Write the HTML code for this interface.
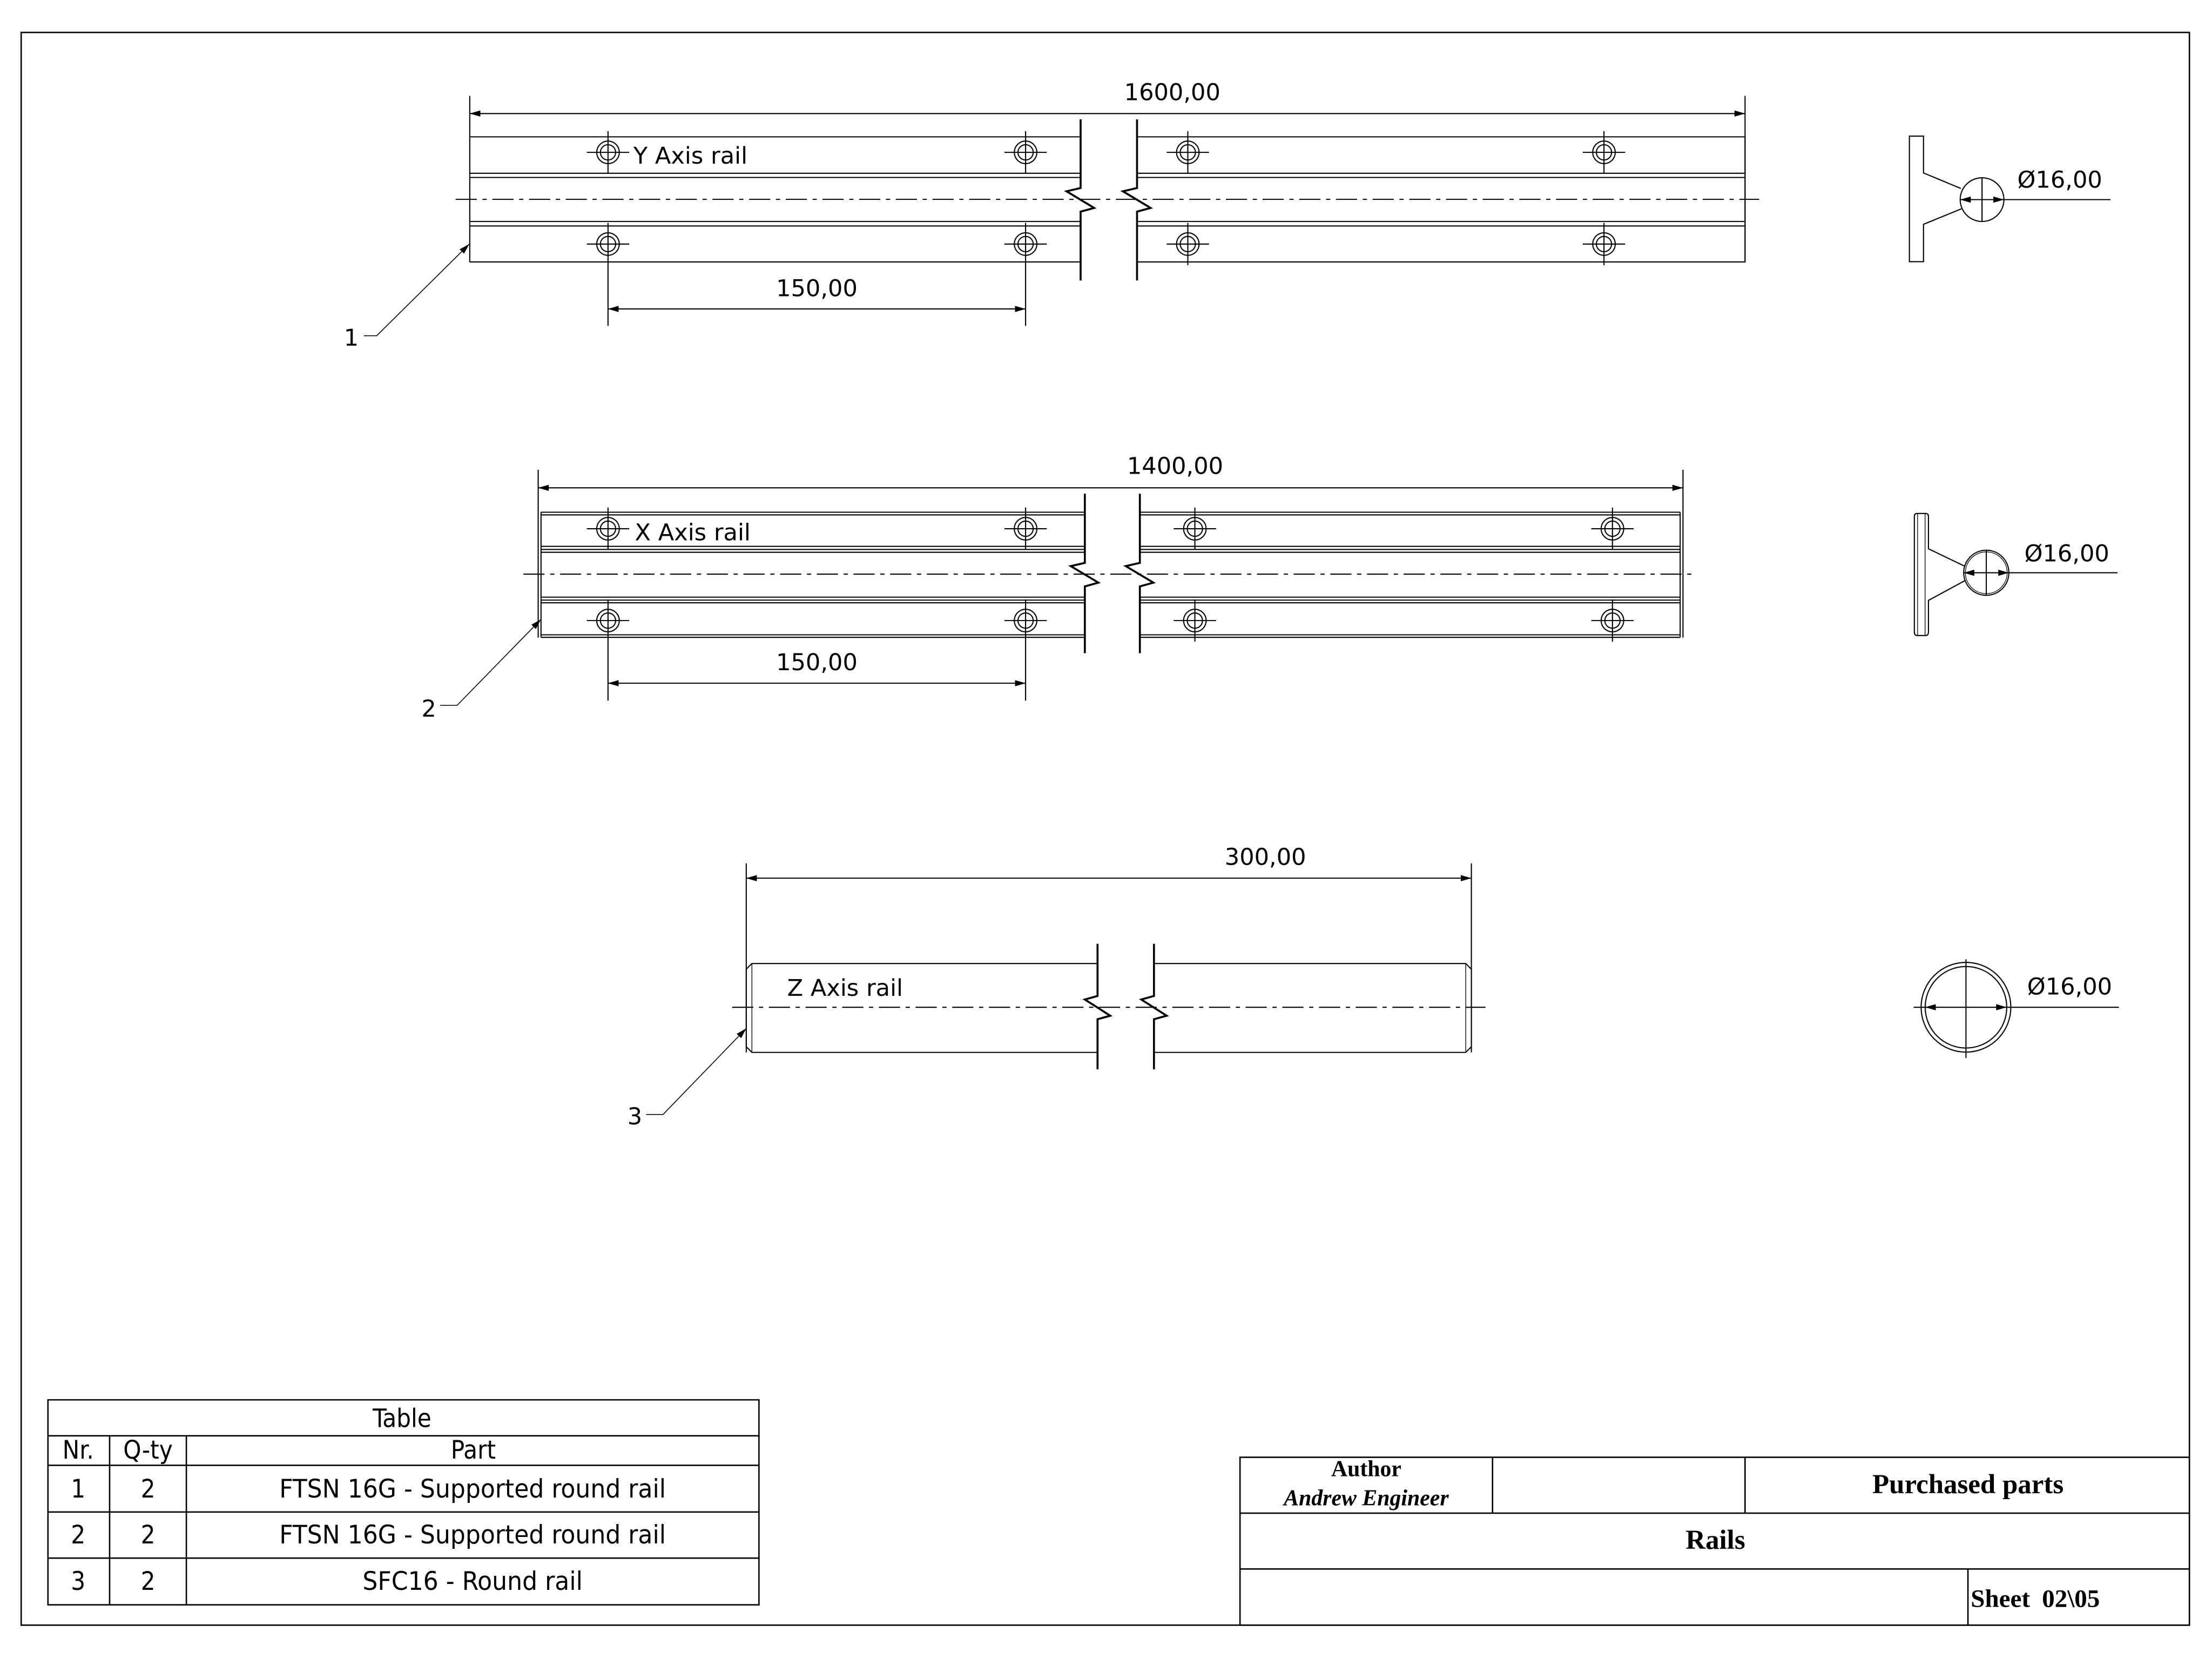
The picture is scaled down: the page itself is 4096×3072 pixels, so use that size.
<!DOCTYPE html>
<html><head><meta charset="utf-8"><style>
html,body{margin:0;padding:0;background:#fff;width:4096px;height:3072px;overflow:hidden}
svg{display:block}
.d{font-family:"DejaVu Sans","Liberation Sans",sans-serif;font-size:16.5px;fill:#000}
.t{font-family:"DejaVu Sans Condensed","DejaVu Sans","Liberation Sans",sans-serif;font-size:18px;fill:#000}
.s{font-family:"Liberation Serif",serif;font-weight:bold;font-size:19.5px;fill:#000}
</style></head><body>
<svg width="4096" height="3072" viewBox="0 0 1568 1176" xmlns="http://www.w3.org/2000/svg">
<defs>
<marker id="a" markerUnits="userSpaceOnUse" markerWidth="12" markerHeight="8" refX="0" refY="0" viewBox="-8 -4 9 8" orient="auto-start-reverse"><path d="M0,0 L-7.5,-2.2 L-7.5,2.2 z" fill="#000"/></marker>
</defs>
<rect width="1568" height="1176" fill="#fff"/>
<rect x="15" y="23" width="1537" height="1129" fill="none" stroke="#000" stroke-width="1"/>

<g fill="none" stroke="#000" stroke-width="0.8">
<!-- ===== Y rail ===== -->
<line x1="333" y1="68" x2="333" y2="186"/><line x1="1237" y1="68" x2="1237" y2="186"/>
<line x1="333" y1="80.5" x2="1237" y2="80.5" marker-start="url(#a)" marker-end="url(#a)"/>
<path d="M333,97H766 M333,122.8H766 M333,125.8H766 M333,157H766 M333,160.2H766 M333,185.7H766"/>
<path d="M806,97H1237 M806,122.8H1237 M806,125.8H1237 M806,157H1237 M806,160.2H1237 M806,185.7H1237 M1237,97V185.7"/>
<line x1="323" y1="141.3" x2="1247" y2="141.3" stroke-dasharray="15 4 3 4"/>
<path d="M766,84.6V133.3L756,135.6L775.6,147.4L766,150V198.8" stroke-width="1.4"/>
<path d="M806,84.6V133.3L796,135.6L815.6,147.4L806,150V198.8" stroke-width="1.4"/>
<circle cx="431" cy="108" r="8"/><circle cx="431" cy="108" r="5.4"/><path d="M416,108H446M431,93V123"/>
<circle cx="727" cy="108" r="8"/><circle cx="727" cy="108" r="5.4"/><path d="M712,108H742M727,93V123"/>
<circle cx="842" cy="108" r="8"/><circle cx="842" cy="108" r="5.4"/><path d="M827,108H857M842,93V123"/>
<circle cx="1137" cy="108" r="8"/><circle cx="1137" cy="108" r="5.4"/><path d="M1122,108H1152M1137,93V123"/>
<circle cx="431" cy="173" r="8"/><circle cx="431" cy="173" r="5.4"/><path d="M416,173H446M431,158V231"/>
<circle cx="727" cy="173" r="8"/><circle cx="727" cy="173" r="5.4"/><path d="M712,173H742M727,158V231"/>
<circle cx="842" cy="173" r="8"/><circle cx="842" cy="173" r="5.4"/><path d="M827,173H857M842,158V188"/>
<circle cx="1137" cy="173" r="8"/><circle cx="1137" cy="173" r="5.4"/><path d="M1122,173H1152M1137,158V188"/>
<line x1="431" y1="219" x2="727" y2="219" marker-start="url(#a)" marker-end="url(#a)"/>
<path d="M258,238H267L332.7,173" marker-end="url(#a)" stroke-width="0.6"/>

<!-- ===== X rail ===== -->
<line x1="381.5" y1="333" x2="381.5" y2="452"/><line x1="1193" y1="333" x2="1193" y2="452"/>
<line x1="381.5" y1="345.8" x2="1193" y2="345.8" marker-start="url(#a)" marker-end="url(#a)"/>
<path d="M383.5,363.1H769 M383.5,365H769 M383.5,387.3H769 M383.5,389.5H769 M383.5,391.5H769 M383.5,423.3H769 M383.5,425.4H769 M383.5,427.3H769 M383.5,450H769 M383.5,451.8H769 M383.5,363.1V451.8"/>
<path d="M808,363.1H1191 M808,365H1191 M808,387.3H1191 M808,389.5H1191 M808,391.5H1191 M808,423.3H1191 M808,425.4H1191 M808,427.3H1191 M808,450H1191 M808,451.8H1191 M1191,363.1V451.8"/>
<line x1="371" y1="407" x2="1203" y2="407" stroke-dasharray="15 4 3 4"/>
<path d="M769,350V399L759,401.3L778.6,413L769,415.7V463" stroke-width="1.4"/>
<path d="M808,350V399L798,401.3L817.6,413L808,415.7V463" stroke-width="1.4"/>
<circle cx="431" cy="374.8" r="8"/><circle cx="431" cy="374.8" r="5.4"/><path d="M416,374.8H446M431,359.8V389.8"/>
<circle cx="727" cy="374.8" r="8"/><circle cx="727" cy="374.8" r="5.4"/><path d="M712,374.8H742M727,359.8V389.8"/>
<circle cx="847" cy="374.8" r="8"/><circle cx="847" cy="374.8" r="5.4"/><path d="M832,374.8H862M847,359.8V389.8"/>
<circle cx="1143" cy="374.8" r="8"/><circle cx="1143" cy="374.8" r="5.4"/><path d="M1128,374.8H1158M1143,359.8V389.8"/>
<circle cx="431" cy="439.9" r="8"/><circle cx="431" cy="439.9" r="5.4"/><path d="M416,439.9H446M431,424.9V496.6"/>
<circle cx="727" cy="439.9" r="8"/><circle cx="727" cy="439.9" r="5.4"/><path d="M712,439.9H742M727,424.9V496.6"/>
<circle cx="847" cy="439.9" r="8"/><circle cx="847" cy="439.9" r="5.4"/><path d="M832,439.9H862M847,424.9V454.9"/>
<circle cx="1143" cy="439.9" r="8"/><circle cx="1143" cy="439.9" r="5.4"/><path d="M1128,439.9H1158M1143,424.9V454.9"/>
<line x1="431" y1="484.3" x2="727" y2="484.3" marker-start="url(#a)" marker-end="url(#a)"/>
<path d="M312,500H324L383.5,439" marker-end="url(#a)" stroke-width="0.6"/>

<!-- ===== Z rail ===== -->
<line x1="529" y1="612" x2="529" y2="746"/><line x1="1043" y1="612" x2="1043" y2="746"/>
<line x1="529" y1="622.5" x2="1043" y2="622.5" marker-start="url(#a)" marker-end="url(#a)"/>
<path d="M778,683H533L529,687V742L533,746H778"/>
<path d="M818,683H1039L1043,687V742L1039,746H818"/>
<path d="M533,683V746M1039,683V746" stroke-width="0.5"/>
<line x1="519" y1="714" x2="1053" y2="714" stroke-dasharray="15 4 3 4"/>
<path d="M778,669V706L769,708.5L787,720L778,722.5V758" stroke-width="1.4"/>
<path d="M818,669V706L809,708.5L827,720L818,722.5V758" stroke-width="1.4"/>
<path d="M458,790H470L529,729" marker-end="url(#a)" stroke-width="0.6"/>

<!-- ===== side views ===== -->
<path d="M1390,133.6L1363.5,122.6V96.5H1353.5V185.5H1363.5V159L1390.4,148"/>
<circle cx="1405" cy="141.5" r="15.5"/>
<line x1="1389.5" y1="141.5" x2="1420.5" y2="141.5" marker-start="url(#a)" marker-end="url(#a)"/>
<line x1="1420.5" y1="141.5" x2="1496" y2="141.5"/>
<line x1="1405" y1="126" x2="1405" y2="157"/>

<path d="M1393,401.5L1367,389V366Q1367,364 1365,364H1359Q1357,364 1357,366V448Q1357,450.5 1359,450.5H1365Q1367,450.5 1367,448V425.6L1393,411.5"/>
<path d="M1359.3,364V450.5M1364.6,364V450.5" stroke-width="0.5"/>
<circle cx="1408" cy="406" r="16"/><circle cx="1408" cy="406" r="14.8" stroke-width="0.5"/>
<line x1="1392" y1="406" x2="1424" y2="406" marker-start="url(#a)" marker-end="url(#a)"/>
<line x1="1424" y1="406" x2="1501" y2="406"/>
<line x1="1408" y1="390" x2="1408" y2="422"/>

<circle cx="1393.6" cy="714" r="31.8"/><circle cx="1393.6" cy="714" r="28.9"/>
<line x1="1364.7" y1="714" x2="1422.5" y2="714" marker-start="url(#a)" marker-end="url(#a)"/>
<path d="M1356.5,714H1364.7M1422.5,714H1502M1393.6,680V750"/>

<!-- ===== table ===== -->
<path d="M34,992.3H538V1137.6H34Z M34,1017.8H538 M34,1038.7H538 M34,1071.8H538 M34,1104.5H538 M77.7,1017.8V1137.6 M132.1,1017.8V1137.6" stroke-width="1"/>

<!-- ===== title block ===== -->
<path d="M879,1033H1552V1152H879Z M879,1072.6H1552 M879,1112.2H1552 M1058,1033V1072.6 M1237,1033V1072.6 M1395,1112.2V1152" stroke-width="1"/>
</g>

<!-- texts -->
<text class="d" x="831" y="71" text-anchor="middle">1600,00</text>
<text class="d" x="449" y="116">Y Axis rail</text>
<text class="d" x="579" y="210" text-anchor="middle">150,00</text>
<text class="d" x="249" y="245" text-anchor="middle">1</text>

<text class="d" x="833" y="336" text-anchor="middle">1400,00</text>
<text class="d" x="450" y="383">X Axis rail</text>
<text class="d" x="579" y="475" text-anchor="middle">150,00</text>
<text class="d" x="304" y="508" text-anchor="middle">2</text>

<text class="d" x="897" y="613" text-anchor="middle">300,00</text>
<text class="d" x="558" y="706">Z Axis rail</text>
<text class="d" x="450" y="797" text-anchor="middle">3</text>

<text class="d" x="1430" y="133">Ø16,00</text>
<text class="d" x="1435" y="398">Ø16,00</text>
<text class="d" x="1437" y="705">Ø16,00</text>

<text class="t" x="285" y="1011.5" text-anchor="middle">Table</text>
<text class="t" x="55.4" y="1034" text-anchor="middle">Nr.</text>
<text class="t" x="104.9" y="1034" text-anchor="middle">Q-ty</text>
<text class="t" x="335.5" y="1034" text-anchor="middle">Part</text>
<text class="t" x="55.4" y="1061.5" text-anchor="middle">1</text>
<text class="t" x="104.9" y="1061.5" text-anchor="middle">2</text>
<text class="t" x="198" y="1061.5" textLength="274" lengthAdjust="spacingAndGlyphs">FTSN 16G - Supported round rail</text>
<text class="t" x="55.4" y="1094" text-anchor="middle">2</text>
<text class="t" x="104.9" y="1094" text-anchor="middle">2</text>
<text class="t" x="198" y="1094" textLength="274" lengthAdjust="spacingAndGlyphs">FTSN 16G - Supported round rail</text>
<text class="t" x="55.4" y="1127" text-anchor="middle">3</text>
<text class="t" x="104.9" y="1127" text-anchor="middle">2</text>
<text class="t" x="257" y="1127" textLength="156" lengthAdjust="spacingAndGlyphs">SFC16 - Round rail</text>

<text class="s" x="968.5" y="1046.5" text-anchor="middle" style="font-size:16px">Author</text>
<text class="s" x="968.5" y="1067" text-anchor="middle" style="font-size:16px;font-style:italic">Andrew Engineer</text>
<text class="s" x="1395" y="1058.5" text-anchor="middle">Purchased parts</text>
<text class="s" x="1216" y="1098" text-anchor="middle">Rails</text>
<text class="s" x="1397" y="1139" style="font-size:18px;word-spacing:4px">Sheet 02\05</text>
</svg>
</body></html>
